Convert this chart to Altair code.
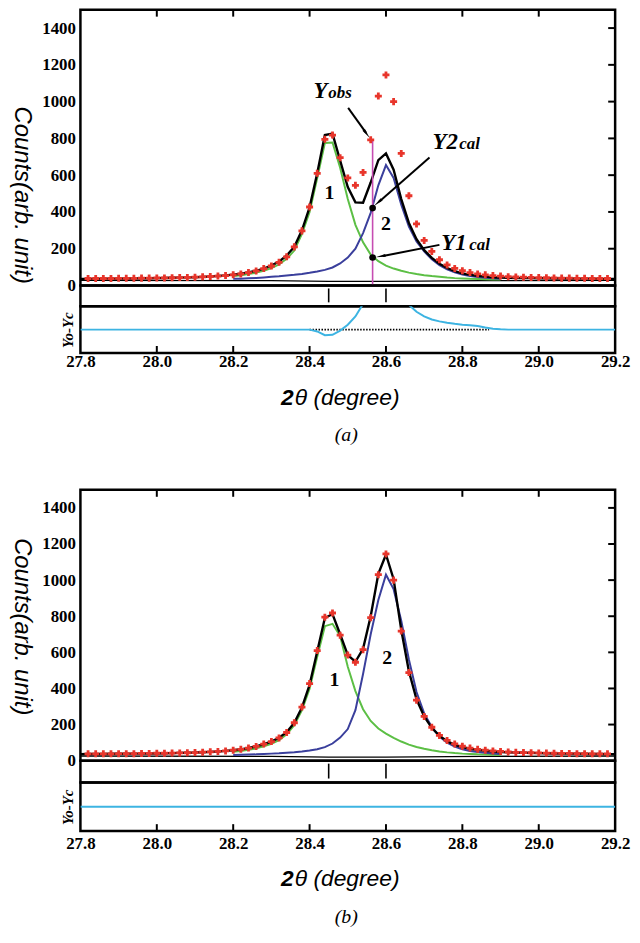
import altair as alt
import pandas as pd

# ---------------- data ----------------
obs_x = [round(27.82 + 0.02 * i, 2) for i in range(69)]
obs_y = [38, 38, 38, 38, 39, 39, 39, 40, 40, 41,
         41, 42, 43, 44, 45, 47, 49, 51, 54, 58,
         63, 70, 79, 92, 106, 126, 156, 210, 297, 427,
         610, 795, 818, 695, 585, 545, 615, 792, 1030, 1145,
         1000, 718, 488, 335, 245, 185, 140, 112, 93, 80,
         70, 63, 58, 54, 51, 48, 46, 45, 44, 43,
         42, 41, 40, 40, 39, 39, 38, 38, 38]

calc_x = [round(27.80 + 0.02 * i, 2) for i in range(71)]
a_total = [36, 36, 36, 37, 37, 37, 38, 38, 39, 39,
           40, 41, 42, 43, 44, 45, 47, 49, 52, 55,
           59, 64, 71, 80, 92, 108, 130, 163, 210, 300,
           425, 610, 818, 826, 680, 535, 452, 450, 560, 682,
           718, 630, 470, 340, 252, 192, 150, 118, 95, 78,
           66, 58, 52, 48, 45, 43, 42, 41, 40, 40,
           39, 39, 38, 38, 38, 37, 37, 37, 36, 36, 36]
b_total = [36, 37, 37, 37, 38, 38, 38, 39, 39, 40,
           40, 41, 42, 43, 44, 45, 47, 49, 51, 54,
           58, 63, 70, 79, 91, 106, 127, 158, 210, 295,
           420, 605, 790, 812, 700, 585, 548, 620, 800, 1035,
           1142, 1005, 725, 495, 340, 245, 182, 138, 108, 88,
           75, 66, 60, 55, 51, 48, 46, 45, 44, 43,
           42, 41, 40, 39, 39, 38, 38, 37, 37, 36, 36]

comp_x = [round(28.20 + 0.02 * i, 2) for i in range(36)]
a_green = [52, 56, 62, 70, 80, 94, 114, 145, 190, 280,
           400, 585, 775, 778, 640, 470, 330, 235, 168, 132,
           108, 92, 80, 70, 62, 56, 51, 47, 43, 40,
           38, 36, 35, 34, 33, 32]
a_blue = [36, 37, 39, 41, 44, 47, 50, 54, 58, 63,
          69, 76, 85, 98, 120, 152, 200, 285, 395, 545,
          655, 585, 440, 320, 240, 185, 142, 110, 88, 72,
          60, 52, 46, 42, 39, 37]
b_green = [50, 54, 60, 68, 80, 94, 114, 146, 196, 280,
           398, 575, 745, 758, 690, 520, 385, 285, 220, 178,
           150, 126, 106, 89, 76, 66, 58, 51, 46, 42,
           39, 37, 35, 34, 33, 32]
b_blue = [32, 33, 34, 35, 37, 39, 41, 44, 47, 51,
          56, 63, 75, 95, 128, 175, 280, 480, 700, 890,
          1030, 950, 775, 560, 380, 262, 186, 134, 100, 78,
          63, 54, 48, 44, 40, 37]

bg_x = [27.8, 28.3, 28.45, 28.6, 28.85, 29.2]
a_bg = [28, 26, 22, 22, 26, 28]
b_bg = [26, 24, 20, 20, 24, 26]

a_resid = [0] * 30 + [0, -10, -30, -28, -5, 27, 72, 140, 230, 350,
                      430, 340, 200, 135, 97, 72, 55, 45, 38, 32,
                      27, 24, 20, 12, 5, 2] + [0] * 15
b_resid_x = [27.8, 28.2, 28.6, 29.0, 29.2]
b_resid = [0, 0, 0, 0, 0]
a_zero_x = [28.40, 28.87]
a_zero_y = [0, 0]

bragg = [28.45, 28.60]
y_ticks = [0, 200, 400, 600, 800, 1000, 1200, 1400]
x_ticks = [27.8, 28.0, 28.2, 28.4, 28.6, 28.8, 29.0, 29.2]

# annotation (panel a)
cut_x = 28.565
cut_obs = 790
cut_y2 = 421
cut_y1 = 152

W = 539
XDOM = [27.8, 29.2]
RED = "#e8352b"
GREEN = "#5cbf45"
BLUE = "#3a3f9c"
CYAN = "#3db4e2"
MAG = "#c64cb2"

SERIF = "Liberation Serif"
SANS = "Liberation Sans"


def xs():
    return alt.Scale(domain=XDOM, nice=False, zero=False)


def main_panel(h, obs, total, green, blue, bg, lab1, lab2, title_y, extra=None):
    ys = alt.Scale(domain=[0, 1500], nice=False, zero=False)
    yax = alt.Axis(values=y_ticks, format="d", ticks=False, domain=False, grid=False,
                   labelFont=SERIF, labelFontWeight="bold", labelFontSize=17,
                   labelColor="black", labelPadding=5, title=None)

    def Y():
        return alt.Y("y:Q", scale=ys, axis=yax)

    def X():
        return alt.X("x:Q", scale=xs(), axis=None)

    layers = []
    layers.append(alt.Chart(pd.DataFrame({"x": bg_x, "y": bg})).mark_line(
        color="black", strokeWidth=1.3, clip=True).encode(x=X(), y=Y()))
    layers.append(alt.Chart(pd.DataFrame({"x": comp_x, "y": green})).mark_line(
        color=GREEN, strokeWidth=2, clip=True).encode(x=X(), y=Y()))
    layers.append(alt.Chart(pd.DataFrame({"x": comp_x, "y": blue})).mark_line(
        color=BLUE, strokeWidth=2, clip=True).encode(x=X(), y=Y()))
    layers.append(alt.Chart(pd.DataFrame({"x": calc_x, "y": total})).mark_line(
        color="black", strokeWidth=2.4, clip=True).encode(x=X(), y=Y()))
    if extra is not None:
        layers.extend(extra(X, Y))
    layers.append(alt.Chart(pd.DataFrame({"x": obs_x, "y": obs})).mark_point(
        shape="cross", filled=True, color=RED, size=50, opacity=1, strokeWidth=0,
        clip=True).encode(x=X(), y=Y()))
    layers.append(alt.Chart(pd.DataFrame({"x": [lab1[0], lab2[0]], "y": [lab1[1], lab2[1]],
                                          "t": ["1", "2"]})).mark_text(
        font=SERIF, fontWeight="bold", fontSize=20, color="black",
        align="center", baseline="middle").encode(x=X(), y=Y(), text="t:N"))
    # inside ticks: right and top
    layers.append(alt.Chart(pd.DataFrame({"y": y_ticks[1:]})).mark_rule(
        color="black", strokeWidth=2).encode(
        y=Y(), x=alt.value(W - 7), x2=alt.value(W)))
    layers.append(alt.Chart(pd.DataFrame({"x": x_ticks[1:-1]})).mark_rule(
        color="black", strokeWidth=2).encode(
        x=X(), y=alt.value(0), y2=alt.value(7)))
    # y-axis title
    layers.append(alt.Chart(pd.DataFrame({"t": ["Counts(arb. unit)"]})).mark_text(
        font=SANS, fontStyle="italic", fontSize=24, color="black", angle=90,
        align="center", baseline="middle").encode(
        text="t:N", x=alt.value(-59), y=alt.value(title_y)))
    return alt.layer(*layers).properties(width=W, height=h)


def tick_panel(h):
    return alt.Chart(pd.DataFrame({"x": bragg})).mark_rule(
        color="black", strokeWidth=1.6).encode(
        x=alt.X("x:Q", scale=xs(), axis=None),
        y=alt.value(3), y2=alt.value(h - 4)).properties(width=W, height=h)


def resid_panel(h, rx, ry, dom, caption, lab_pad, title_off, cap_off, zero=None):
    ys = alt.Scale(domain=dom, nice=False, zero=False)
    xax = alt.Axis(values=x_ticks, format=".1f", ticks=False, domain=False, grid=False,
                   labelFont=SERIF, labelFontWeight="bold", labelFontSize=17,
                   labelColor="black", labelPadding=lab_pad, labelFlush=False, title=None)
    yax = alt.Axis(labels=False, ticks=False, domain=False, grid=False,
                   title="Yo-Yc", titleFont=SERIF, titleFontStyle="italic",
                   titleFontWeight="bold", titleFontSize=15, titleColor="black",
                   titlePadding=5)

    def X():
        return alt.X("x:Q", scale=xs(), axis=xax)

    def Y():
        return alt.Y("y:Q", scale=ys, axis=yax)

    layers = []
    if zero is not None:
        layers.append(alt.Chart(pd.DataFrame({"x": zero[0], "y": zero[1]})).mark_line(
            color="black", strokeWidth=2, strokeDash=[1.5, 1.5], clip=True).encode(x=X(), y=Y()))
    layers.append(alt.Chart(pd.DataFrame({"x": rx, "y": ry})).mark_line(
        color=CYAN, strokeWidth=2, clip=True).encode(x=X(), y=Y()))
    layers.append(alt.Chart(pd.DataFrame({"x": x_ticks[1:-1]})).mark_rule(
        color="black", strokeWidth=2).encode(
        x=X(), y=alt.value(h - 7), y2=alt.value(h)))
    layers.append(alt.Chart(pd.DataFrame({"t": ["2"]})).mark_text(
        font=SANS, fontStyle="italic", fontWeight="bold", fontSize=23, color="black",
        align="right", baseline="middle").encode(
        text="t:N", x=alt.value(215), y=alt.value(h + title_off)))
    layers.append(alt.Chart(pd.DataFrame({"t": ["θ (degree)"]})).mark_text(
        font=SANS, fontStyle="italic", fontSize=23, color="black",
        align="left", baseline="middle").encode(
        text="t:N", x=alt.value(216), y=alt.value(h + title_off)))
    layers.append(alt.Chart(pd.DataFrame({"t": [caption]})).mark_text(
        font=SERIF, fontStyle="italic", fontSize=20, color="black",
        align="center", baseline="middle").encode(
        text="t:N", x=alt.value(268), y=alt.value(h + cap_off)))
    return alt.layer(*layers).properties(width=W, height=h)


def annotations_a(X, Y):
    out = []
    out.append(alt.Chart(pd.DataFrame({"x": [cut_x], "y": [0], "y2": [cut_obs]})).mark_rule(
        color=MAG, strokeWidth=1.6).encode(x=X(), y=Y(), y2="y2:Q"))
    out.append(alt.Chart(pd.DataFrame({"x": [cut_x, cut_x], "y": [cut_y2, cut_y1]})).mark_point(
        shape="circle", filled=True, color="black", size=45, opacity=1).encode(x=X(), y=Y()))
    arrows = pd.DataFrame({"x": [28.501, 28.714, 28.740], "y": [966, 696, 221],
                           "x2": [28.548, 28.582, 28.592], "y2": [830, 456, 160]})
    out.append(alt.Chart(arrows).mark_rule(color="black", strokeWidth=2).encode(
        x=X(), y=Y(), x2="x2:Q", y2="y2:Q"))
    heads = pd.DataFrame({"x": [28.547, 28.582, 28.590], "y": [832, 456, 160],
                          "a": [143.5, 229, 259]})
    out.append(alt.Chart(heads).mark_point(shape="wedge", filled=True, color="black",
                                           size=140, opacity=1).encode(
        x=X(), y=Y(), angle=alt.Angle("a:Q", scale=None)))
    big = pd.DataFrame({"x": [28.41, 28.722, 28.745], "y": [1020, 745, 194],
                        "t": ["Y", "Y2", "Y1"]})
    out.append(alt.Chart(big).mark_text(font=SERIF, fontStyle="italic", fontWeight="bold",
                                        fontSize=23, color="black", align="left",
                                        baseline="alphabetic").encode(x=X(), y=Y(), text="t:N"))
    small = pd.DataFrame({"x": [28.449, 28.792, 28.818], "y": [1020, 745, 194],
                          "t": ["obs", "cal", "cal"]})
    out.append(alt.Chart(small).mark_text(font=SERIF, fontStyle="italic", fontWeight="bold",
                                          fontSize=17, color="black", align="left",
                                          baseline="alphabetic").encode(x=X(), y=Y(), text="t:N"))
    return out


panel_a = alt.vconcat(
    main_panel(278, obs_y, a_total, a_green, a_blue, a_bg, (28.452, 502), (28.60, 335), 187,
               extra=annotations_a),
    tick_panel(21),
    resid_panel(47, calc_x, a_resid, [-127, 127], "(a)", 1, 45, 83,
                zero=(a_zero_x, a_zero_y)),
    spacing=0, bounds="flush")

panel_b = alt.vconcat(
    main_panel(273, obs_y, b_total, b_green, b_blue, b_bg, (28.465, 445), (28.603, 571), 138),
    tick_panel(22),
    resid_panel(49, b_resid_x, b_resid, [-130, 130], "(b)", 5, 48, 87),
    spacing=0, bounds="flush")

chart = alt.vconcat(panel_a, panel_b, spacing=40).properties(
    padding={"left": 0, "top": -5, "right": 0, "bottom": 0}
).configure_view(stroke="black", strokeWidth=2.5)

chart.save("out.html", embed_options={"renderer": "svg", "actions": False})
